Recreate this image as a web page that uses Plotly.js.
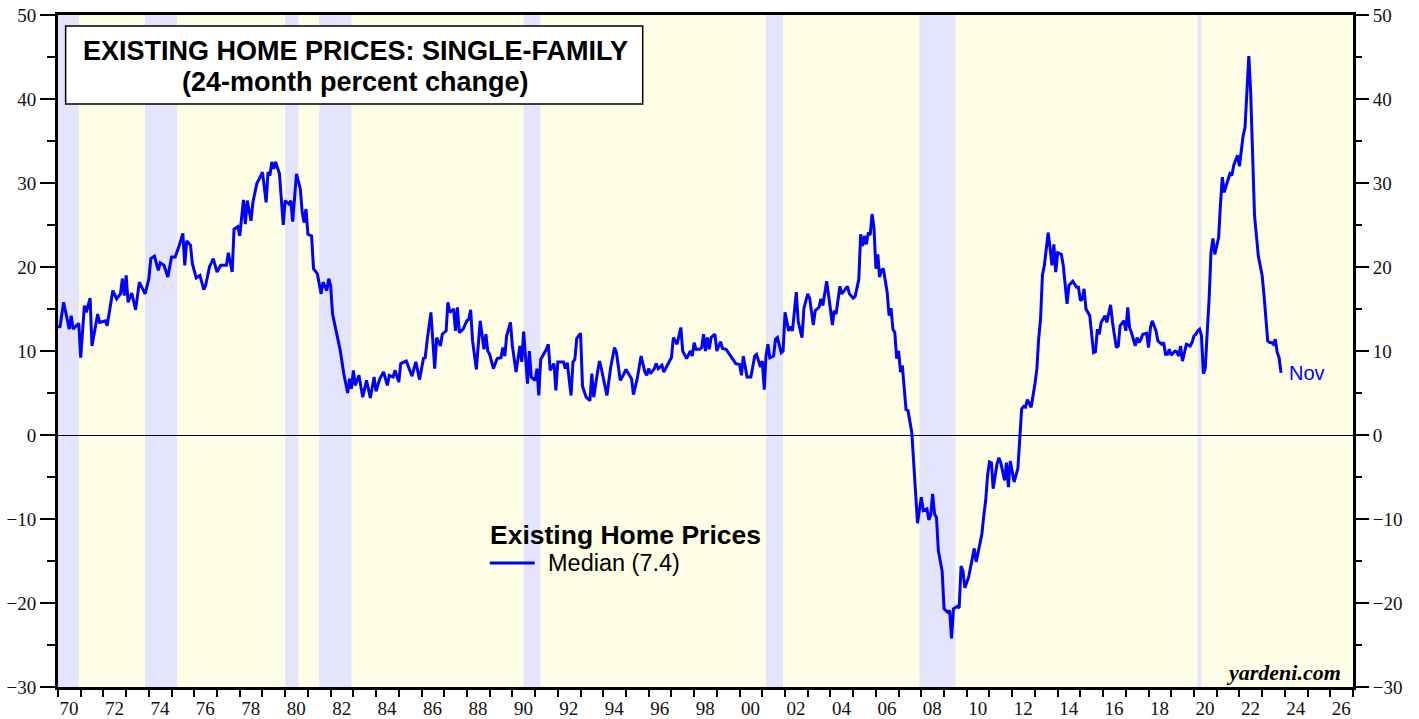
<!DOCTYPE html>
<html><head><meta charset="utf-8">
<script src="https://cdn.plot.ly/plotly-3.0.1.min.js"></script>
<style>html,body{margin:0;padding:0;background:#fff}#chart{width:1419px;height:719px}</style>
</head><body><div id="chart"></div>
<script>
// Existing home prices, single-family median, 24-month % change
const months = [
'1970-01','1970-02','1970-04','1970-05','1970-07','1970-08','1970-09','1970-12','1971-01','1971-03','1971-04','1971-06','1971-07','1971-10','1971-11',
'1972-02','1972-03','1972-06','1972-08','1972-10','1972-11','1972-12','1973-01','1973-02','1973-04','1973-06','1973-08','1973-11',
'1974-01','1974-02','1974-04','1974-06','1974-07','1974-09','1974-11','1975-01','1975-03','1975-05','1975-07','1975-08','1975-09','1975-11','1975-12',
'1976-02','1976-04','1976-06','1976-07','1976-09','1976-11','1977-01','1977-03','1977-06','1977-07','1977-09','1977-10','1977-12',
'1978-01','1978-03','1978-04','1978-05','1978-07','1978-08','1978-10','1978-12','1979-01','1979-03','1979-04','1979-05','1979-06','1979-07','1979-08','1979-10','1979-12',
'1980-01','1980-03','1980-04','1980-05','1980-07','1980-09','1980-10','1980-11','1980-12','1981-01','1981-03','1981-04','1981-06','1981-08','1981-09','1981-11','1981-12',
'1982-01','1982-02','1982-04','1982-05','1982-06','1982-08','1982-10','1982-11','1982-12','1983-01','1983-02','1983-04','1983-06','1983-08','1983-10','1983-12',
'1984-01','1984-03','1984-05','1984-07','1984-08','1984-10','1984-11','1985-01','1985-02','1985-05','1985-08','1985-10','1985-12',
'1986-02','1986-03','1986-04','1986-06','1986-08','1986-09','1986-11','1986-12','1987-02','1987-03','1987-04','1987-06','1987-07','1987-08','1987-09','1987-11',
'1988-01','1988-02','1988-03','1988-04','1988-06','1988-08','1988-10','1988-11','1988-12','1989-01','1989-03','1989-05','1989-07','1989-08','1989-09','1989-10','1989-12',
'1990-01','1990-03','1990-05','1990-06','1990-07','1990-09','1990-10','1990-11','1991-01','1991-02','1991-03','1991-04','1991-07','1991-08','1991-09','1991-11','1991-12',
'1992-01','1992-04','1992-05','1992-06','1992-08','1992-09','1992-10','1992-11','1993-01','1993-02','1993-04','1993-06','1993-07','1993-08','1993-10','1993-11','1993-12',
'1994-01','1994-03','1994-05','1994-07','1994-08','1994-10','1994-12','1995-01','1995-04','1995-05','1995-07','1995-09','1995-11','1995-12',
'1996-01','1996-02','1996-04','1996-05','1996-06','1996-08','1996-09','1996-11','1996-12','1997-01','1997-02','1997-04','1997-05','1997-06','1997-07','1997-09','1997-11','1997-12',
'1998-01','1998-02','1998-04','1998-05','1998-06','1998-07','1998-08','1998-09','1998-10','1998-12','1999-01','1999-03','1999-04','1999-06','1999-08','1999-10','1999-11',
'2000-01','2000-02','2000-03','2000-04','2000-05','2000-07','2000-09','2000-10','2000-12','2001-01','2001-02','2001-03','2001-04','2001-05','2001-07','2001-08','2001-09','2001-11','2001-12',
'2002-01','2002-03','2002-04','2002-05','2002-07','2002-08','2002-10','2002-11','2003-01','2003-02','2003-04','2003-05','2003-07','2003-08','2003-09','2003-11',
'2004-01','2004-02','2004-03','2004-04','2004-06','2004-07','2004-09','2004-10','2004-11','2005-01','2005-02','2005-03','2005-04','2005-05','2005-06','2005-07','2005-08','2005-09','2005-10','2005-11','2005-12',
'2006-01','2006-02','2006-03','2006-04','2006-05','2006-07','2006-08','2006-09','2006-10','2006-11','2006-12','2007-01','2007-02','2007-03','2007-05','2007-06','2007-08','2007-09','2007-10','2007-11',
'2008-01','2008-02','2008-04','2008-05','2008-06','2008-07','2008-08','2008-09','2008-10','2008-12','2009-01','2009-03','2009-04','2009-05','2009-06','2009-08','2009-09','2009-10','2009-11','2009-12',
'2010-02','2010-04','2010-05','2010-06','2010-08','2010-09','2010-10','2010-11','2010-12','2011-01','2011-02','2011-03','2011-05','2011-06','2011-07','2011-09','2011-10','2011-11','2011-12',
'2012-01','2012-02','2012-04','2012-05','2012-06','2012-07','2012-08','2012-09','2012-10','2012-11','2013-01','2013-02','2013-03','2013-04','2013-05','2013-06','2013-07','2013-08','2013-09','2013-10','2013-11','2013-12',
'2014-01','2014-03','2014-04','2014-05','2014-06','2014-07','2014-08','2014-09','2014-11','2014-12','2015-01','2015-02','2015-03','2015-04','2015-06','2015-07','2015-08','2015-09','2015-10','2015-11','2015-12',
'2016-02','2016-03','2016-05','2016-06','2016-08','2016-09','2016-10','2016-12','2017-01','2017-02','2017-03','2017-04','2017-06','2017-07','2017-08','2017-09','2017-10','2017-12',
'2018-01','2018-02','2018-03','2018-05','2018-06','2018-08','2018-09','2018-10','2018-11','2018-12','2019-01','2019-03','2019-04','2019-05','2019-06','2019-07','2019-09','2019-10','2019-11','2019-12',
'2020-01','2020-02','2020-03','2020-04','2020-05','2020-06','2020-07','2020-08','2020-09','2020-10','2020-11','2020-12','2021-02','2021-03','2021-04','2021-05','2021-06','2021-08','2021-09','2021-10','2021-11','2021-12',
'2022-01','2022-02','2022-03','2022-04','2022-05','2022-06','2022-07','2022-08','2022-09','2022-11','2023-01','2023-02','2023-03','2023-04','2023-05','2023-06','2023-07','2023-08','2023-09','2023-10','2023-11'
];
const median24 = [
13.0,12.8,15.8,14.8,12.6,14.2,12.6,13.3,9.2,15.4,14.6,16.3,10.6,14.4,13.4,
13.6,13.0,17.2,16.2,16.8,18.6,16.6,19.0,15.8,16.9,14.9,18.2,16.8,
18.6,21.0,21.3,19.6,20.5,20.2,18.8,21.2,21.2,22.5,24.0,20.2,23.1,22.6,20.4,
18.7,19.0,17.3,17.8,20.0,21.0,19.4,20.2,20.2,21.7,19.4,24.5,24.8,
23.7,28.0,25.1,27.9,25.5,27.7,29.9,30.8,31.3,27.7,31.3,30.9,32.5,31.7,32.5,31.1,25.0,
27.9,27.5,27.9,25.4,31.1,29.3,26.5,25.3,26.9,23.9,23.7,19.8,19.2,16.8,18.2,17.2,18.6,
17.8,14.4,12.4,11.2,10.2,7.3,5.0,6.7,5.5,7.7,5.9,7.1,4.5,6.5,4.4,6.9,
5.2,6.7,7.5,5.9,7.1,6.9,7.7,6.3,8.5,8.8,7.0,8.7,6.6,
9.1,9.2,11.2,14.6,7.9,11.6,10.6,12.0,12.4,15.8,14.6,15.0,12.4,15.2,12.2,12.6,
13.6,13.8,14.9,11.2,7.8,13.6,10.2,12.0,10.0,9.6,7.9,9.1,9.2,10.4,9.4,11.8,13.4,
10.6,7.5,10.6,8.7,12.3,6.1,10.0,6.9,6.5,7.9,4.7,9.0,10.2,10.8,7.7,8.5,5.3,
8.7,8.7,7.9,8.6,4.7,8.7,9.0,11.5,12.1,5.8,4.5,4.1,7.3,4.5,7.5,8.8,7.9,
6.7,4.7,8.1,10.4,9.8,6.5,7.3,7.8,6.7,4.8,6.7,9.4,7.5,7.1,
7.9,7.3,7.9,8.5,7.9,8.3,7.5,8.5,8.8,9.2,11.6,10.8,11.8,12.8,10.0,9.1,10.0,9.4,
11.0,10.2,10.2,10.4,12.0,10.0,11.6,10.2,11.6,12.0,10.0,11.1,10.3,10.2,9.5,8.8,8.5,
8.4,7.1,9.4,8.1,6.9,6.9,9.4,9.6,8.1,8.8,5.4,9.4,10.8,9.2,9.4,11.4,11.6,9.8,10.0,
14.6,12.4,12.9,12.4,17.0,13.5,11.6,15.1,16.8,16.3,13.1,14.8,15.2,16.2,15.4,18.3,
15.0,13.1,14.8,14.4,17.7,16.8,17.4,17.7,16.8,16.3,16.5,17.4,18.5,23.9,22.5,23.7,22.7,24.1,23.8,26.3,24.7,
19.8,21.5,18.8,19.6,19.8,17.0,14.2,15.1,12.6,12.2,9.1,10.0,7.5,8.3,3.0,2.9,0.3,-3.3,-7.8,-10.5,
-7.4,-9.0,-8.8,-10.1,-9.5,-7.0,-9.4,-9.8,-13.8,-16.2,-20.7,-21.1,-20.9,-24.2,-20.7,-20.4,-20.6,-15.6,-16.2,-18.2,
-16.9,-14.8,-13.5,-15.1,-12.6,-11.8,-9.6,-7.8,-4.8,-3.2,-3.3,-6.4,-3.5,-2.7,-3.3,-5.4,-3.3,-6.2,-3.1,
-4.2,-5.6,-4.0,0.1,3.1,3.4,3.3,4.2,3.8,3.3,6.1,7.9,11.4,13.8,19.0,20.2,22.1,24.1,22.3,20.2,22.7,19.4,
21.7,21.5,20.2,18.0,15.6,17.8,18.0,18.3,17.6,17.6,16.0,16.2,17.4,15.0,14.2,12.2,9.8,9.9,12.6,12.0,13.4,
14.2,13.4,15.5,13.4,10.4,10.6,13.0,13.6,12.4,15.2,12.8,12.2,10.6,11.6,11.0,11.4,12.0,12.1,
10.4,12.8,13.6,12.4,11.2,10.8,11.0,9.6,9.6,10.2,9.5,10.0,9.9,9.4,10.6,8.8,10.8,10.7,10.6,11.0,
11.8,12.0,12.4,12.6,11.8,7.3,7.9,12.2,16.2,21.7,23.4,21.5,23.5,27.3,30.7,28.9,29.7,31.1,30.9,32.1,32.7,33.3,
32.0,34.2,35.6,36.6,40.4,45.1,40.8,32.5,26.1,21.3,19.0,16.6,13.4,11.2,11.0,11.0,10.8,11.4,9.8,9.2,7.4
];
// NBER recessions (shaded)
const recessionStart = ['1969-12-01','1973-11-01','1980-01-01','1981-07-01','1990-07-01','2001-03-01','2007-12-01','2020-03-01'];
const recessionEnd   = ['1970-12-01','1975-04-01','1980-08-01','1982-12-01','1991-04-01','2001-12-01','2009-07-01','2020-05-01'];
// x-axis tick labels (two-digit years, every other year)
const tickYears = [];
for (let y = 1970; y <= 2026; y += 2) tickYears.push(y);
const tickLabels = tickYears.map(y => String(y).slice(2));
const seriesName = 'Median (7.4)';
const legendTitle = 'Existing Home Prices';

const serif = '"Liberation Serif", "Times New Roman", Times, serif';
const sans = '"Liberation Sans", Arial, Helvetica, sans-serif';

const shapes = recessionStart.map((s, i) => ({
  type: 'rect', xref: 'x', yref: 'paper', x0: s, x1: recessionEnd[i], y0: 0, y1: 1,
  fillcolor: '#e4e4fc', line: {width: 0}, layer: 'below'
}));
// title box
shapes.push({type: 'rect', xref: 'paper', yref: 'paper', x0: 0.0059, x1: 0.4515, y0: 0.8676, y1: 0.9836,
  fillcolor: '#ffffff', line: {color: '#000', width: 1.5}, layer: 'above'});
// legend line sample
shapes.push({type: 'line', xref: 'paper', yref: 'paper', x0: 0.3334, x1: 0.3681, y0: 0.1845, y1: 0.1845,
  line: {color: '#0000ff', width: 3}, layer: 'above'});

const traces = [
  {x: months, y: median24, type: 'scatter', mode: 'lines', name: seriesName, showlegend: false,
   line: {color: '#0000ff', width: 3}, hoverinfo: 'x+y'},
  {x: [], y: [], type: 'scatter', xaxis: 'x', yaxis: 'y2', showlegend: false, hoverinfo: 'skip'}
];

const layout = {
  width: 1419, height: 719,
  margin: {l: 58, r: 66, t: 15, b: 32, pad: 0},
  paper_bgcolor: '#ffffff', plot_bgcolor: '#fefee6',
  showlegend: false,
  xaxis: {
    type: 'date', range: ['1970-01-01', '2027-01-01'],
    tickmode: 'array', tickvals: tickYears.map(y => y + '-01-01'), ticktext: tickLabels,
    ticklabelshift: 11, ticklabelstandoff: -5, ticks: 'outside', ticklen: 7, tickwidth: 2, tickcolor: '#000',
    minor: {tickmode: 'linear', tick0: '1970-01-01', dtick: 'M12', ticks: 'outside', ticklen: 7, tickwidth: 2, tickcolor: '#000'},
    showline: true, linecolor: '#000', linewidth: 3, mirror: true,
    showgrid: false, zeroline: false,
    tickfont: {family: serif, size: 19, color: '#111'}
  },
  yaxis: {
    range: [-30, 50], tickmode: 'linear', tick0: 0, dtick: 10,
    ticks: 'outside', ticklen: 15, tickwidth: 2, tickcolor: '#000',
    minor: {dtick: 5, ticks: 'outside', ticklen: 8, tickwidth: 2, tickcolor: '#000'},
    showline: true, linecolor: '#000', linewidth: 3, mirror: true,
    showgrid: false, zeroline: true, zerolinecolor: '#000', zerolinewidth: 1,
    tickfont: {family: serif, size: 19, color: '#111'}
  },
  yaxis2: {
    overlaying: 'y', side: 'right', range: [-30, 50], tickmode: 'linear', tick0: 0, dtick: 10,
    ticks: 'outside', ticklen: 15, tickwidth: 2, tickcolor: '#000',
    minor: {dtick: 5, ticks: 'outside', ticklen: 8, tickwidth: 2, tickcolor: '#000'},
    showline: false, showgrid: false, zeroline: false,
    tickfont: {family: serif, size: 19, color: '#111'}
  },
  shapes: shapes,
  annotations: [
    {xref: 'paper', yref: 'paper', x: 0.2299, y: 0.9464, text: '<b>EXISTING HOME PRICES: SINGLE-FAMILY</b>',
     showarrow: false, xanchor: 'center', yanchor: 'middle', font: {family: sans, size: 27, color: '#000'}},
    {xref: 'paper', yref: 'paper', x: 0.2299, y: 0.8996, text: '<b>(24-month percent change)</b>',
     showarrow: false, xanchor: 'center', yanchor: 'middle', font: {family: sans, size: 27, color: '#000'}},
    {xref: 'paper', yref: 'paper', x: 0.3334, y: 0.2262, text: '<b>' + legendTitle + '</b>',
     showarrow: false, xanchor: 'left', yanchor: 'middle', xshift: -2, font: {family: sans, size: 26.5, color: '#000'}},
    {xref: 'paper', yref: 'paper', x: 0.3782, y: 0.1845, text: seriesName,
     showarrow: false, xanchor: 'left', yanchor: 'middle', xshift: -2, font: {family: sans, size: 23.5, color: '#000'}},
    {xref: 'x', yref: 'y', x: months[months.length - 1], y: median24[median24.length - 1], text: 'Nov',
     showarrow: false, xanchor: 'left', yanchor: 'middle', xshift: 6, font: {family: sans, size: 20, color: '#0000ff'}},
    {xref: 'paper', yref: 'paper', x: 0.992, y: 0.0223, text: '<b><i>yardeni.com</i></b>',
     showarrow: false, xanchor: 'right', yanchor: 'middle', font: {family: serif, size: 22, color: '#000'}}
  ]
};

Plotly.newPlot('chart', traces, layout, {displayModeBar: false, responsive: false});
</script>
</body></html>
